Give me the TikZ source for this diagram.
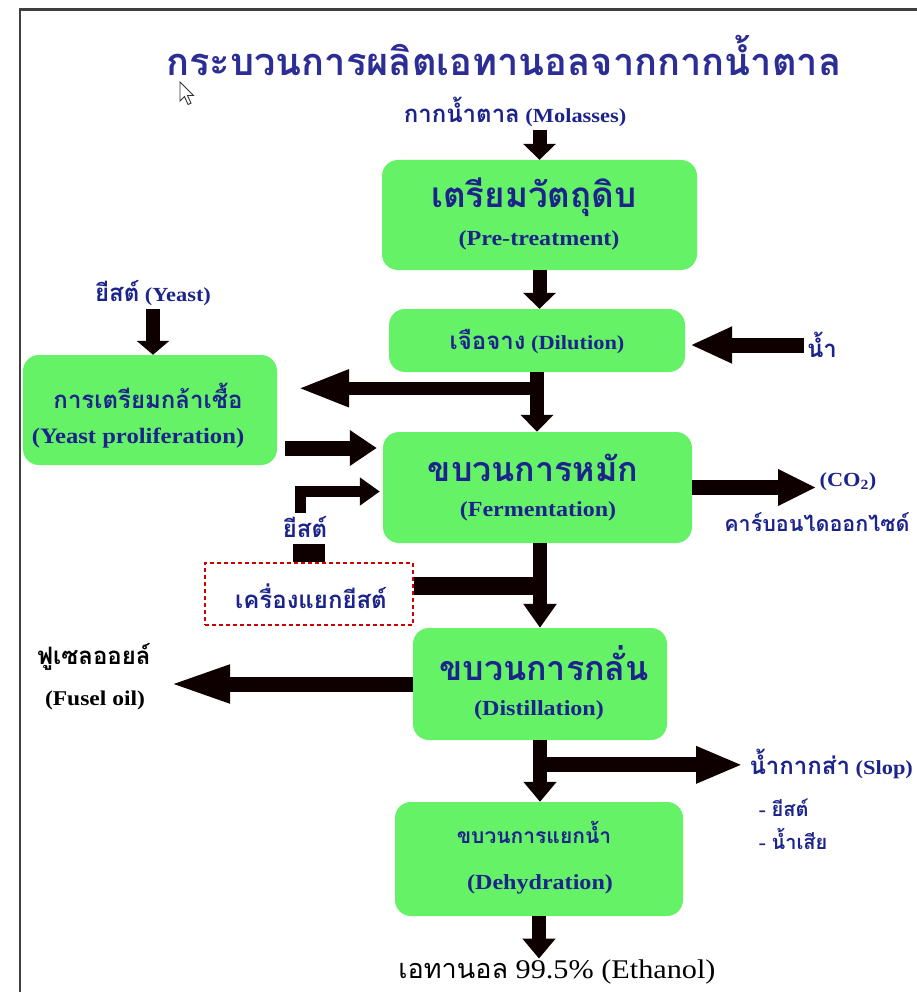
\documentclass[tikz,border=0pt]{standalone}
\usepackage{fontspec}
\setmainfont{Liberation Serif}[FakeStretch=1.12]
\newfontfamily\thaif[Script=Thai]{Loma}
\newcommand{\thaiL}[1]{{\thaif\fontsize{24}{28}\selectfont #1}}
\usetikzlibrary{arrows.meta,calc}
\definecolor{boxgreen}{RGB}{102,242,102}
\definecolor{tblue}{RGB}{28,36,140}
\definecolor{ttl}{RGB}{45,45,150}
\definecolor{arrc}{RGB}{14,0,0}
\definecolor{frame}{RGB}{64,64,64}
\begin{document}
\begin{tikzpicture}[x=1pt,y=-1pt,
  gbox/.style={fill=boxgreen, rounded corners=16pt, inner sep=0pt},
  thbig/.style={text=tblue, font=\thaif\bfseries\fontsize{34}{38}\selectfont},
  ensm/.style={text=tblue, font=\bfseries\fontsize{21.5}{24}\selectfont},
  lbl/.style={text=tblue, font=\bfseries\fontsize{20}{24}\selectfont},
  varr/.style={draw=arrc, line width=14pt, -{Triangle[width=32pt,length=#1]}},
  varr/.default=16pt,
  harr/.style={draw=arrc, line width=15pt, -{Triangle[width=34pt,length=#1]}},
  harr/.default=42pt,
  rarr/.style={draw=arrc, line width=11pt, line join=miter, -{Triangle[width=27pt,length=20pt]}}
]
\useasboundingbox (0,0) rectangle (917,992);
\fill[white] (0,0) rectangle (917,992);
\draw[line width=2.5pt, frame] (20,992) -- (20,9.5) -- (917,9.5);

% title and cursor
\node[text=ttl, font=\thaif\bfseries\fontsize{38}{44}\selectfont] (title) at (504,55) {กระบวนการผลิตเอทานอลจากกากน้ำตาล};
\draw[gray!40!black, fill=white, line width=0.9pt] (180,82) -- ++(0,19) -- ++(4.5,-4.5) -- ++(3.5,8) -- ++(3,-1.3) -- ++(-3.5,-7.7) -- ++(6,0) -- cycle;

% boxes
\node[gbox, minimum width=315pt, minimum height=110pt] (pre) at (539.5,215) {};
\node[thbig, font=\thaif\bfseries\fontsize{35}{40}\selectfont] (preth) at (534,197) {เตรียมวัตถุดิบ};
\node[ensm] (preen) at (539,240) {(Pre-treatment)};

\node[gbox, minimum width=296pt, minimum height=63pt] (dil) at (537,340.5) {};
\node[lbl] (dilt) at (537,342) {\thaiL{เจือจาง} (Dilution)};

\node[gbox, minimum width=254pt, minimum height=110pt] (prolif) at (150,410) {};
\node[lbl] (prolth) at (148,396) {\thaiL{การเตรียมกล้าเชื้อ}};
\node[ensm, font=\bfseries\fontsize{22}{26}\selectfont] (prolen) at (138,438) {(Yeast proliferation)};

\node[gbox, minimum width=309pt, minimum height=111pt] (ferm) at (537.5,487.5) {};
\node[thbig] (fermth) at (533,468) {ขบวนการหมัก};
\node[ensm] (fermen) at (538,511) {(Fermentation)};

\node[draw=red!80!black, dash pattern=on 4pt off 3pt, line width=1.2pt, minimum width=208pt, minimum height=62pt, inner sep=0pt] (sep) at (309,594) {};
\node[lbl] (sept) at (311,596) {\thaiL{เครื่องแยกยีสต์}};

\node[gbox, minimum width=254pt, minimum height=112pt] (dist) at (540,684) {};
\node[thbig] (distth) at (544,663) {ขบวนการกลั่น};
\node[ensm] (disten) at (539,710) {(Distillation)};

\node[gbox, minimum width=288pt, minimum height=114pt] (dehy) at (539,859) {};
\node[lbl, font=\thaif\bfseries\fontsize{21}{24}\selectfont] (dehyth) at (534,832) {ขบวนการแยกน้ำ};
\node[ensm] (dehyen) at (540,884) {(Dehydration)};

% labels
\node[lbl] (mol) at (515,112) {\thaiL{กากน้ำตาล} (Molasses)};
\node[lbl] (yeast) at (153,293) {\thaiL{ยีสต์} (Yeast)};
\node[lbl] (water) at (822,345) {\thaiL{น้ำ}};
\node[lbl] (co2) at (848,482) {(CO\textsubscript{2})};
\node[lbl, anchor=east, font=\thaif\bfseries\fontsize{21.5}{25}\selectfont] (cdo) at (913,522) {คาร์บอนไดออกไซด์};
\node[lbl] (yst2) at (305,527) {\thaiL{ยีสต์}};
\node[lbl, text=black] (fusth) at (94,657) {\thaiL{ฟูเซลออยล์}};
\node[lbl, text=black, font=\bfseries\fontsize{21}{24}\selectfont] (fusen) at (95,700) {(Fusel oil)};
\node[lbl, anchor=west] (slop) at (746,764) {\thaiL{น้ำกากส่า} (Slop)};
\node[lbl, anchor=west] (slop1) at (755,808) {- {\thaif ยีสต์}};
\node[lbl, anchor=west] (slop2) at (755,839) {- {\thaif น้ำเสีย}};
\node[font=\fontsize{27}{30}\selectfont, inner sep=1pt] (eth) at (557,972) {{\thaif เอทานอล} 99.5\% (Ethanol)};
\coordinate (fustip) at (168,684);

% connectors
\draw[varr] (pre.north |- mol.south) -- (pre.north);
\draw[varr] (pre.south) -- (pre.south |- dil.north);
\draw[varr=17pt] (dil.south) -- (dil.south |- ferm.north);
\coordinate (b1) at ($(dil.south)!0.27!(dil.south |- ferm.north)$);
\draw[harr=52pt, line width=13pt, shorten >=20pt] (b1) -- (b1 -| prolif.east);
\draw[varr=14pt] (yeast.south) -- (yeast.south |- prolif.north);
\draw[harr=27pt, shorten <=8pt, shorten >=6pt] ([yshift=-38pt]prolif.east) -- ([yshift=-38pt]prolif.east -| ferm.west);
\draw[harr, shorten >=5pt] (water.west) -- (water.west -| dil.east);
\draw[harr=38pt] (ferm.east) -- (ferm.east -| co2.west);
\draw[varr=24pt] (dist.north |- ferm.south) -- (dist.north);
\draw[line width=18pt, arrc] ([yshift=8pt]sep.east) -- ([yshift=8pt]sep.east -| dist.north);
\fill[arrc] ([xshift=-16pt]sep.north) rectangle ([xshift=16pt,yshift=18pt]sep.north);
\draw[rarr, shorten >=3pt] ([xshift=-5pt]yst2.north) |- ([yshift=-4pt]ferm.west);
\draw[harr=62pt] (dist.west) -- (fustip);
\draw[varr=20pt] (dist.south) -- (dist.south |- dehy.north);
\coordinate (b2) at ($(dist.south)!0.4!(dist.south |- dehy.north)$);
\draw[harr=47pt, shorten >=3pt] (b2) -- (b2 -| slop.west);
\draw[varr=20pt] (dehy.south) -- (dehy.south |- eth.north);
\end{tikzpicture}
\end{document}
